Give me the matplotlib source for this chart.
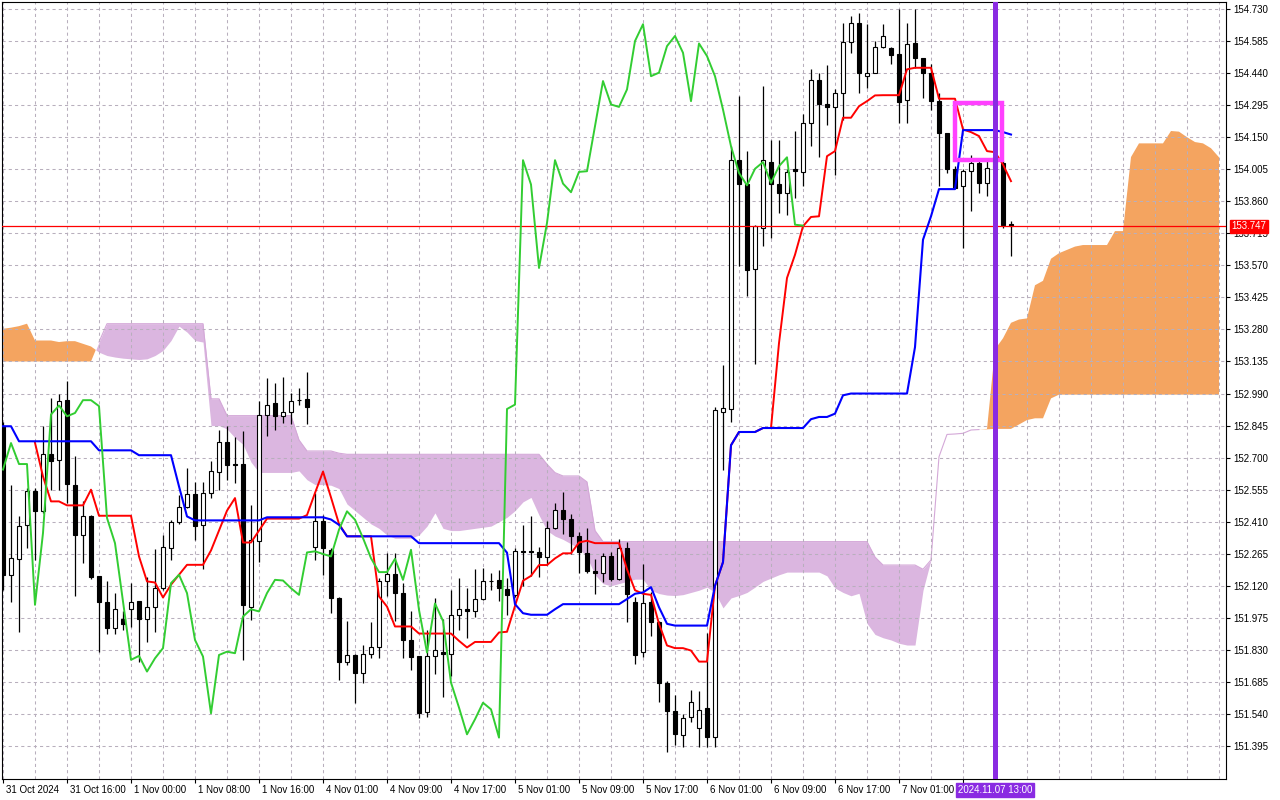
import numpy as np
import matplotlib.pyplot as plt
from matplotlib.patches import Rectangle
from matplotlib.transforms import ScaledTranslation

plt.rcParams['font.family'] = ['Liberation Sans', 'DejaVu Sans']

# H1 bars, index 0 = 31 Oct 2024 08:00 (weekend gap between bar 39 and 40)
opens = [152.842, 152.170, 152.241, 152.395, 152.550, 152.457, 152.717, 152.691, 152.963, 152.578,
         152.348, 152.437, 152.165, 152.049, 151.928, 151.969, 152.014, 152.052, 151.969, 152.023,
         152.109, 152.291, 152.407, 152.477, 152.537, 152.396, 152.540, 152.634, 152.771, 152.671,
         152.671, 152.023, 152.321, 152.895, 152.945, 152.890, 152.907, 152.960, 152.966, 152.294,
         152.411, 152.283, 152.064, 151.777, 151.806, 151.727, 151.810, 151.845, 152.140, 152.173,
         152.087, 151.875, 151.803, 151.548, 151.803, 151.822, 151.813, 151.989, 152.017, 152.004,
         152.060, 152.143, 152.146, 152.105, 152.079, 152.276, 152.277, 152.271, 152.251, 152.380,
         152.463, 152.422, 152.347, 152.268, 152.185, 152.180, 152.253, 152.150, 152.289, 152.049,
         151.822, 152.049, 151.955, 151.679, 151.552, 151.445, 151.525, 151.475, 151.566, 151.434,
         152.907, 152.921, 154.049, 153.936, 153.553, 153.739, 154.038, 153.936, 153.898, 154.004,
         153.993, 154.215, 154.407, 154.301, 154.286, 154.351, 154.582, 154.668, 154.426, 154.442,
         154.559, 154.555, 154.525, 154.316, 154.577, 154.509, 154.442, 154.313, 154.170, 154.004,
         153.928, 153.996, 154.034, 153.943, 154.011, 154.034, 153.757]
highs = [152.860, 152.578, 152.437, 152.563, 152.563, 152.842, 152.970, 152.989, 153.046, 152.706,
         152.505, 152.440, 152.165, 152.143, 152.087, 152.004, 152.132, 152.052, 152.162, 152.286,
         152.351, 152.419, 152.532, 152.653, 152.588, 152.588, 152.683, 152.827, 152.842, 152.794,
         152.822, 152.487, 152.955, 153.061, 153.038, 153.066, 152.993, 153.016, 153.088, 152.540,
         152.442, 152.290, 152.070, 151.961, 151.810, 151.853, 151.955, 152.155, 152.268, 152.268,
         152.132, 152.004, 151.803, 151.921, 152.063, 151.969, 152.100, 152.155, 152.109, 152.196,
         152.200, 152.180, 152.191, 152.155, 152.289, 152.395, 152.437, 152.294, 152.412, 152.493,
         152.543, 152.445, 152.365, 152.380, 152.241, 152.268, 152.271, 152.331, 152.316, 152.070,
         152.220, 152.091, 151.960, 151.691, 151.626, 151.540, 151.649, 151.643, 151.906, 152.930,
         153.120, 154.109, 154.336, 154.087, 153.754, 154.381, 154.136, 154.139, 154.004, 154.177,
         154.253, 154.457, 154.442, 154.475, 154.366, 154.665, 154.698, 154.713, 154.661, 154.585,
         154.661, 154.560, 154.729, 154.668, 154.730, 154.510, 154.479, 154.351, 154.170, 154.019,
         154.004, 154.071, 154.056, 154.056, 154.100, 154.041, 153.769]
lows = [152.100, 152.045, 151.913, 152.291, 152.238, 152.450, 152.555, 152.555, 152.495, 152.072,
        152.223, 152.150, 151.822, 151.901, 151.901, 151.921, 151.935, 151.777, 151.868, 151.909,
        152.100, 152.238, 152.400, 152.470, 152.328, 152.196, 152.517, 152.555, 152.600, 152.585,
        151.785, 151.966, 152.230, 152.797, 152.827, 152.857, 152.850, 152.936, 152.853, 152.238,
        152.170, 151.996, 151.694, 151.762, 151.588, 151.682, 151.792, 151.792, 152.072, 151.960,
        151.792, 151.740, 151.520, 151.528, 151.720, 151.619, 151.712, 151.921, 151.883, 151.981,
        152.058, 152.100, 152.052, 151.989, 152.070, 152.120, 152.165, 152.162, 152.215, 152.378,
        152.354, 152.264, 152.176, 152.176, 152.085, 152.135, 152.140, 152.147, 151.958, 151.767,
        151.797, 151.895, 151.593, 151.370, 151.400, 151.389, 151.502, 151.389, 151.389, 151.389,
        152.643, 152.863, 153.566, 153.430, 153.125, 153.656, 153.694, 153.807, 153.797, 153.875,
        153.928, 154.112, 154.059, 154.204, 153.978, 154.230, 154.530, 154.351, 154.374, 154.440,
        154.555, 154.479, 154.215, 154.215, 154.464, 154.328, 154.275, 153.928, 153.988, 153.920,
        153.649, 153.815, 153.898, 153.883, 153.960, 153.739, 153.611]
closes = [152.170, 152.245, 152.389, 152.547, 152.457, 152.717, 152.683, 152.955, 152.581, 152.348,
          152.437, 152.162, 152.045, 151.928, 152.014, 151.946, 152.049, 151.969, 152.023, 152.109,
          152.295, 152.407, 152.477, 152.537, 152.389, 152.540, 152.638, 152.771, 152.665, 152.665,
          152.031, 152.328, 152.895, 152.940, 152.890, 152.907, 152.957, 152.962, 152.928, 152.411,
          152.291, 152.064, 151.777, 151.806, 151.727, 151.810, 151.842, 152.143, 152.173, 152.087,
          151.875, 151.800, 151.543, 151.803, 151.829, 151.813, 151.987, 152.017, 152.004, 152.060,
          152.143, 152.143, 152.112, 152.079, 152.276, 152.273, 152.271, 152.251, 152.380, 152.463,
          152.422, 152.347, 152.271, 152.185, 152.177, 152.253, 152.150, 152.289, 152.082, 151.807,
          152.043, 151.958, 151.679, 151.552, 151.449, 151.520, 151.593, 151.560, 151.434, 152.914,
          152.925, 154.049, 153.936, 153.550, 153.747, 154.046, 153.936, 153.898, 153.993, 153.996,
          154.215, 154.407, 154.301, 154.286, 154.351, 154.582, 154.665, 154.442, 154.442, 154.559,
          154.608, 154.522, 154.309, 154.573, 154.509, 154.442, 154.313, 154.170, 154.004, 153.920,
          153.996, 154.034, 153.943, 154.011, 154.059, 153.754, 153.750]
bid = 153.747

# Ichimoku lines
tenkan_start = 4
tenkan = [152.767, 152.615, 152.502, 152.502, 152.484, 152.484, 152.484, 152.555, 152.437, 152.437,
          152.437, 152.437, 152.437, 152.253, 152.140, 152.135, 152.067, 152.125, 152.170, 152.215,
          152.215, 152.215, 152.280, 152.370, 152.460, 152.517, 152.316, 152.316, 152.370, 152.424,
          152.424, 152.424, 152.424, 152.424, 152.440, 152.540, 152.637, 152.520, 152.400, 152.344,
          152.344, 152.344, 152.344, 152.072, 152.026, 151.936, 151.936, 151.936, 151.904, 151.904,
          151.904, 151.904, 151.904, 151.871, 151.841, 151.866, 151.866, 151.866, 151.909, 151.912,
          152.029, 152.143, 152.165, 152.214, 152.214, 152.244, 152.267, 152.267, 152.316, 152.324,
          152.313, 152.313, 152.313, 152.313, 152.195, 152.100, 152.084, 152.079, 151.948, 151.850,
          151.838, 151.838, 151.827, 151.777, 151.777, 152.120, 152.227, 152.756, 152.816, 152.816,
          152.816, 152.834, 152.834, 153.218, 153.513, 153.618, 153.747, 153.789, 153.792, 154.064,
          154.087, 154.238, 154.238, 154.290, 154.313, 154.339, 154.340, 154.340, 154.340, 154.457,
          154.464, 154.464, 154.464, 154.324, 154.324, 154.324, 154.185, 154.173, 154.155, 154.087,
          154.082, 154.026, 153.951]
kijun = ([152.842] * 2 + [152.774] * 10 + [152.733] * 5 + [152.711] * 5 + [152.570, 152.434]
         + [152.416] * 9 + [152.430] * 8 + [152.420, 152.396] + [152.344] * 9 + [152.313] * 11
         + [152.270, 152.037, 151.996] + [151.989] * 3 + [152.014] + [152.037] * 8
         + [152.060, 152.084, 152.090, 152.114, 152.023, 151.948] + [151.940] * 5
         + [152.120, 152.227, 152.756] + [152.816] * 3 + [152.834] * 6 + [152.874, 152.884, 152.884, 152.899, 152.982]
         + [152.990] * 8 + [153.200, 153.686, 153.792] + [153.915] * 3 + [154.182] * 5 + [154.173, 154.162])
chikou = [152.646, 152.766, 152.671, 152.671, 152.034, 152.359, 152.895, 152.936, 152.887, 152.902,
          152.960, 152.960, 152.933, 152.427, 152.313, 152.049, 151.785, 151.803, 151.732, 151.792,
          151.838, 152.132, 152.170, 152.087, 151.875, 151.800, 151.543, 151.807, 151.822, 151.815,
          151.981, 152.014, 152.004, 152.087, 152.147, 152.144, 152.109, 152.079, 152.271, 152.276,
          152.264, 152.253, 152.374, 152.457, 152.419, 152.336, 152.245, 152.182, 152.182, 152.242,
          152.147, 152.283, 152.011, 151.818, 152.040, 151.961, 151.682, 151.569, 151.448, 151.516,
          151.591, 151.561, 151.433, 152.920, 152.940, 154.046, 153.936, 153.558, 153.762, 154.046,
          153.940, 153.901, 153.993, 153.996, 154.200, 154.404, 154.298, 154.287, 154.366, 154.585,
          154.661, 154.426, 154.442, 154.562, 154.608, 154.532, 154.313, 154.574, 154.517, 154.426,
          154.275, 154.109, 153.988, 153.932, 154.007, 154.037, 153.943, 154.019, 154.059, 153.754,
          153.750]
span_a = [153.283, 153.288, 153.295, 153.306, 153.230, 153.230, 153.230, 153.223, 153.227, 153.227,
          153.215, 153.203, 153.177, 153.162, 153.155, 153.150, 153.147, 153.144, 153.147, 153.162,
          153.185, 153.230, 153.295, 153.268, 153.230, 153.223, 152.845, 152.845, 152.830, 152.790,
          152.760, 152.680, 152.633, 152.633, 152.633, 152.633, 152.633, 152.640, 152.600, 152.578,
          152.578, 152.575, 152.560, 152.490, 152.460, 152.430, 152.400, 152.380, 152.350, 152.335,
          152.335, 152.335, 152.350, 152.390, 152.450, 152.380, 152.370, 152.370, 152.375, 152.380,
          152.385, 152.390, 152.410, 152.430, 152.460, 152.500, 152.520, 152.440, 152.370, 152.345,
          152.330, 152.310, 152.290, 152.250, 152.170, 152.130, 152.120, 152.130, 152.140, 152.150,
          152.150, 152.100, 152.085, 152.078, 152.076, 152.080, 152.090, 152.100, 152.114, 152.090,
          152.020, 152.065, 152.076, 152.090, 152.114, 152.140, 152.155, 152.170, 152.182, 152.182,
          152.182, 152.182, 152.182, 152.165, 152.110, 152.090, 152.075, 152.086, 151.950, 151.900,
          151.885, 151.875, 151.860, 151.852, 151.852, 152.100, 152.237, 152.704, 152.805, 152.807,
          152.810, 152.825, 152.827, 152.830, 153.190, 153.240, 153.310, 153.325, 153.330, 153.480,
          153.500, 153.600, 153.625, 153.640, 153.655, 153.662, 153.662, 153.662, 153.662, 153.725,
          153.725, 154.060, 154.122, 154.122, 154.122, 154.122, 154.178, 154.175, 154.150, 154.128,
          154.122, 154.100, 154.059]
span_b = ([153.135] * 12 + [153.223] + [153.306] * 13 + [152.966] * 2 + [152.890] * 9 + [152.780]
          + [152.730] * 4 + [152.720] + [152.715] * 25 + [152.670, 152.632] + [152.617] * 3
          + [152.590, 152.370] + [152.320] * 34 + [152.250] + [152.214] * 5
          + [152.195, 152.237, 152.704, 152.805, 152.807, 152.810, 152.825, 152.827, 152.828]
          + [152.830] * 3 + [152.850, 152.870, 152.878, 152.878, 152.968] + [152.985] * 21)

# time axis labels every 8 bars, right price scale
tick_bars = list(range(0, 121, 8))
tick_labels = ['31 Oct 2024', '31 Oct 16:00', '1 Nov 00:00', '1 Nov 08:00', '1 Nov 16:00',
               '4 Nov 01:00', '4 Nov 09:00', '4 Nov 17:00', '5 Nov 01:00', '5 Nov 09:00',
               '5 Nov 17:00', '6 Nov 01:00', '6 Nov 09:00', '6 Nov 17:00', '7 Nov 01:00', '']
price_top = 154.730
price_step = 0.145
n_levels = 24
cursor_bar = 124
cursor_label = '2024.11.07 13:00'
# rectangle object drawn on the chart (time in bars, price)
rect_t = (119.06, 124.9)
rect_p = (154.049, 154.306)

fig = plt.figure(figsize=(12.8, 8), dpi=100)
ax = fig.add_axes([2 / 1280, 21 / 800, 1224 / 1280, 777 / 800])
ax.set_facecolor('white')

A = np.array(span_a)
B = np.array(span_b)
xc = np.arange(len(A))
ax.fill_between(xc, A, B, where=A >= B, interpolate=True, color='#f4a460', lw=0, zorder=1)
ax.fill_between(xc, A, B, where=B > A, interpolate=True, color='#dbb6e0', lw=0, zorder=1)
b_line = np.where(A > B + 0.001, np.nan, B)
ax.plot(xc, b_line, color='#d4a8d8', lw=0.8, zorder=1.1)

o = np.array(opens)
h = np.array(highs)
l = np.array(lows)
c = np.array(closes)
x = np.arange(len(c))
up = c >= o
ax.vlines(x, l, h, color='black', lw=0.9, zorder=3)
ax.bar(x[up], np.maximum(c[up] - o[up], 0.001), bottom=o[up], width=0.6,
       facecolor='white', edgecolor='black', lw=0.8, zorder=3.1)
ax.bar(x[~up], o[~up] - c[~up], bottom=c[~up], width=0.6,
       facecolor='black', edgecolor='black', lw=0.8, zorder=3.1)

ax.axhline(bid, color='red', lw=0.9, zorder=3.5)

ax.plot(np.arange(tenkan_start, tenkan_start + len(tenkan)), tenkan, color='red', lw=1.4, zorder=4)
ax.plot(np.arange(len(kijun)), kijun, color='blue', lw=1.5, zorder=4.1)
ax.plot(np.arange(len(chikou)), chikou, color='#32cd32', lw=1.4, zorder=4.2)

ax.add_patch(Rectangle((rect_t[0], rect_p[0]), rect_t[1] - rect_t[0], rect_p[1] - rect_p[0],
                       fill=False, edgecolor='#ff40ff', lw=3.2, zorder=5))
ax.axvline(cursor_bar, color='#8a2be2', lw=3.6, zorder=6)

levels = np.round(price_top - price_step * np.arange(n_levels), 3)
ax.set_xlim(-0.125, 152.875)
ax.set_ylim(price_top - 770 / 221, price_top + 7 / 221)

ax.yaxis.tick_right()
ax.set_yticks(levels)
ax.set_yticklabels(['%.3f' % v for v in levels])
ax.tick_params(axis='y', direction='out', length=3, width=0.8, pad=2, labelsize=7)

ax.set_xticks(tick_bars)
ax.set_xticklabels(tick_labels, ha='left')
ax.set_xticks(np.arange(0, 153, 4), minor=True)
ax.tick_params(axis='x', which='major', direction='out', length=3, width=0.8, pad=1.5, labelsize=7)
ax.tick_params(axis='x', which='minor', length=0)
for lab in ax.get_xticklabels():
    lab.set_transform(lab.get_transform() + ScaledTranslation(2 / 72, 0, fig.dpi_scale_trans))

gc = '#b8afbd'
ax.set_axisbelow('line')
ax.grid(True, which='major', axis='y', color=gc, ls=(0, (3, 3)), lw=0.75)
ax.grid(True, which='both', axis='x', color=gc, ls=(0, (3, 3)), lw=0.75)

for s in ax.spines.values():
    s.set_color('black')
    s.set_linewidth(0.8)

ax.annotate('%.3f' % bid, xy=(1, bid), xycoords=('axes fraction', 'data'),
            xytext=(4, 0), textcoords='offset points', ha='left', va='center',
            fontsize=7, color='white', annotation_clip=False, zorder=10,
            bbox=dict(boxstyle='square,pad=0.15', fc='red', ec='red'))
ax.annotate(cursor_label, xy=(cursor_bar, 0), xycoords=('data', 'axes fraction'),
            xytext=(0, -7.6), textcoords='offset points', ha='center', va='center',
            fontsize=7, color='white', annotation_clip=False, zorder=10,
            bbox=dict(boxstyle='square,pad=0.2', fc='#8a2be2', ec='#8a2be2'))

fig.savefig('out.png', dpi=100)
